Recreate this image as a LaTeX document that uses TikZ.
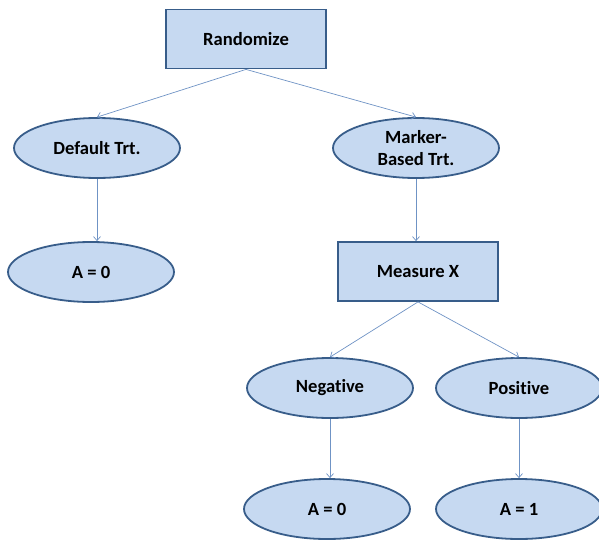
\documentclass[tikz,border=0pt]{standalone}
\usepackage{fontspec}
\setmainfont{Carlito}[Ligatures=NoCommon]
\usetikzlibrary{shapes.geometric,arrows.meta}
\definecolor{boxfill}{HTML}{C6D9F1}
\definecolor{boxline}{HTML}{385D8A}
\definecolor{arrowc}{HTML}{6F93C5}
\begin{document}
\begin{tikzpicture}[x=1pt,y=-1pt,
  base/.style={draw=boxline,fill=boxfill,line width=1.8pt,inner sep=0pt,font=\bfseries\fontsize{18.6}{22}\selectfont,align=center},
  rbox/.style={base,rectangle,minimum width=160pt,minimum height=59pt},
  oval/.style={base,ellipse,minimum width=166pt,minimum height=60pt},
  conn/.style={draw=arrowc,line width=0.7pt,-{Straight Barb[length=4pt,width=7pt]}}]
\useasboundingbox (0,0) rectangle (599,540);
\node[rbox] (rand) at (246,39) {Randomize};
\node[oval] (def) at (97,148) {Default Trt.};
\node[oval] (mark) at (416,148) {Marker-\\Based Trt.};
\node[oval] (a0l) at (91,272) {A = 0};
\node[rbox] (meas) at (418,271.5) {Measure X};
\node[oval] (neg) at (330,388) {Negative};
\node[oval] (pos) at (519,388) {Positive};
\node[oval] (a0r) at (327,509) {A = 0};
\node[oval] (a1) at (519,509) {A = 1};
\draw[conn] (rand.south) -- (def.north);
\draw[conn] (rand.south) -- (mark.north);
\draw[conn] (def.south) -- (def.south |- a0l.north);
\draw[conn] (mark.south) -- (mark.south |- meas.north);
\draw[conn] (meas.south) -- (neg.north);
\draw[conn] (meas.south) -- (pos.north);
\draw[conn] (neg.south) -- (neg.south |- a0r.north);
\draw[conn] (pos.south) -- (pos.south |- a1.north);
\end{tikzpicture}
\end{document}
